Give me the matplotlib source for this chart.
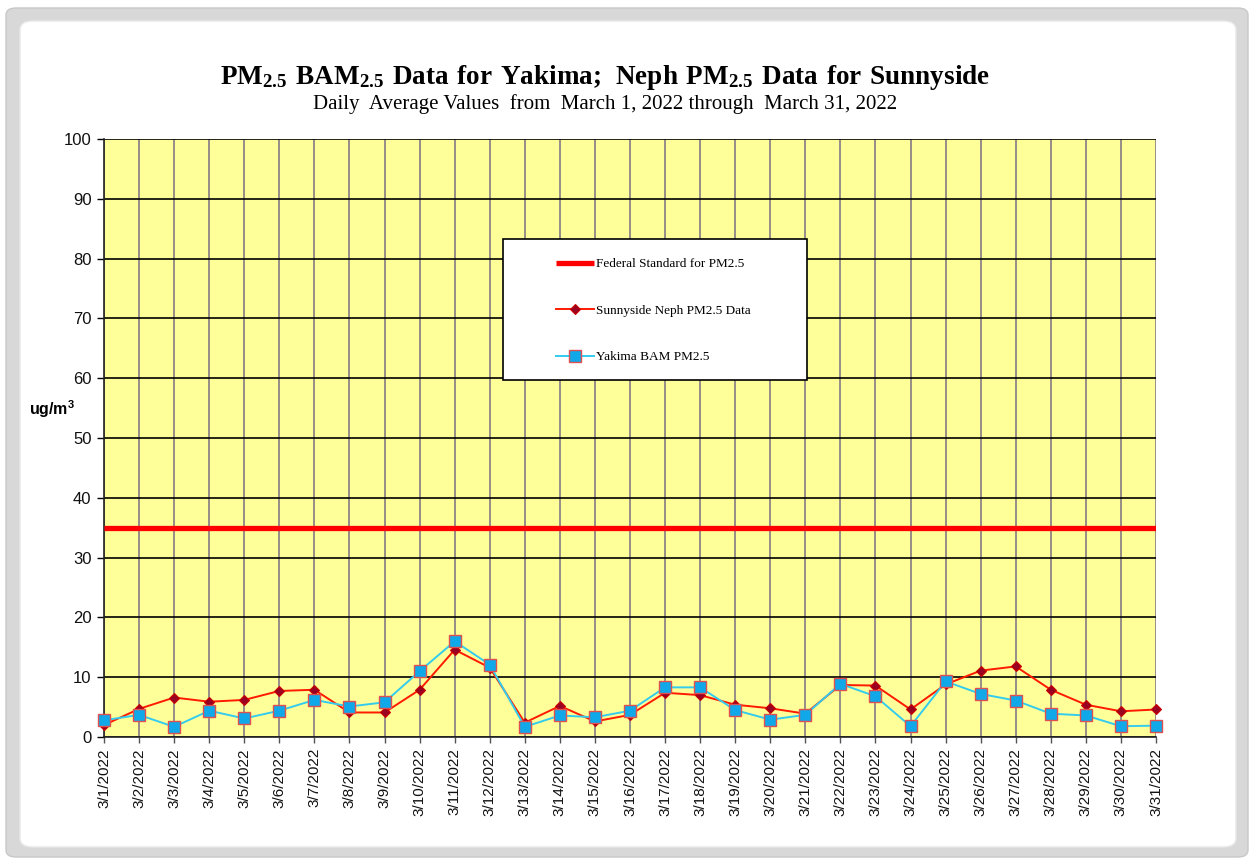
import matplotlib
matplotlib.use("Agg")
import matplotlib.pyplot as plt
from matplotlib.patches import FancyBboxPatch, Rectangle

plt.rcParams['mathtext.fontset'] = 'custom'
plt.rcParams['mathtext.rm'] = 'Liberation Serif'
plt.rcParams['mathtext.bf'] = 'Liberation Serif:bold'
plt.rcParams['mathtext.sf'] = 'Liberation Sans:bold'

days = list(range(1, 32))
dates = [f"3/{d}/2022" for d in days]
sunnyside = [2.0, 4.7, 6.6, 5.9, 6.2, 7.7, 7.9, 4.1, 4.1, 7.9, 14.6, 11.6,
             2.4, 5.2, 2.6, 3.7, 7.4, 7.0, 5.4, 4.8, 3.9, 8.7, 8.6,
             4.6, 8.8, 11.1, 11.8, 7.9, 5.4, 4.3, 4.6]
yakima = [2.8, 3.7, 1.7, 4.4, 3.1, 4.4, 6.2, 5.1, 5.8, 11.0, 16.0, 12.1,
          1.7, 3.6, 3.3, 4.4, 8.3, 8.3, 4.5, 2.9, 3.7, 8.9, 6.8,
          1.8, 9.3, 7.2, 6.1, 3.9, 3.6, 1.8, 1.9]
federal_standard = 35
yticks = list(range(0, 101, 10))

W, H = 1251, 861
fig = plt.figure(figsize=(W / 100, H / 100), dpi=100)
fig.patch.set_facecolor('white')

# outer frame
fig.patches.append(FancyBboxPatch((6 / W, 4 / H), 1242 / W, 849 / H,
                                  boxstyle="round,pad=0,rounding_size=0.008",
                                  transform=fig.transFigure, facecolor='#D8D8D8',
                                  edgecolor='#C8C8C8', lw=1, zorder=-10))
fig.patches.append(FancyBboxPatch((20 / W, 14 / H), 1216 / W, 826 / H,
                                  boxstyle="round,pad=0,rounding_size=0.01",
                                  transform=fig.transFigure, facecolor='white',
                                  edgecolor='#E8E8E8', lw=1, zorder=-9))

left, right, top, bottom = 104, 1156, 139, 737
ax = fig.add_axes([left / W, 1 - bottom / H, (right - left) / W, (bottom - top) / H])
ax.set_facecolor('#FFFF99')
ax.set_xlim(1, 31)
ax.set_ylim(0, 100)
ax.set_yticks(yticks)
ax.set_xticks(days)
ax.set_xticklabels(dates, rotation=90, fontsize=11, family='Liberation Sans', color='#111111')
ax.set_yticklabels([str(v) for v in yticks], fontsize=12, family='Liberation Sans', color='#111111')
ax.tick_params(axis='y', length=5, width=1, color='black', pad=4)
ax.tick_params(axis='x', length=4, width=1, color='#555555', pad=4)
ax.grid(axis='x', color='#857A85', lw=1.2, zorder=1)
ax.grid(axis='y', color='black', lw=1.2, zorder=1)
ax.set_axisbelow(True)
for s in ['top', 'right']:
    ax.spines[s].set_visible(False)
for s in ['left', 'bottom']:
    ax.spines[s].set_color('#222222')
    ax.spines[s].set_linewidth(1.2)

l1, = ax.plot([days[0], days[-1]], [federal_standard, federal_standard], color='#FF0000', lw=3.8,
              solid_capstyle='butt', zorder=3, label='Federal Standard for PM2.5')
l2, = ax.plot(days, sunnyside, color='#FF1A00', lw=1.4, marker='D', markersize=5,
              markerfacecolor='#990022', markeredgecolor='#CC0000', markeredgewidth=0.8,
              zorder=4, label='Sunnyside Neph PM2.5 Data')
l3, = ax.plot(days, yakima, color='#33CCEE', lw=1.4, marker='s', markersize=8.5,
              markerfacecolor='#10A8E8', markeredgecolor='#E05050', markeredgewidth=1.0,
              zorder=4, label='Yakima BAM PM2.5')
for l in (l2, l3):
    l.set_clip_on(False)

# legend box
lx0, ly0, lx1, ly1 = 503, 239, 807, 380
ax.add_patch(Rectangle(((lx0 - left) / (right - left), (bottom - ly1) / (bottom - top)),
                       (lx1 - lx0) / (right - left), (ly1 - ly0) / (bottom - top),
                       transform=ax.transAxes, facecolor='white', edgecolor='black',
                       lw=1.2, zorder=6))
leg = ax.legend(handles=[l1, l2, l3], loc='upper left',
                bbox_to_anchor=((556 - left) / (right - left), (bottom - 258) / (bottom - top)),
                frameon=False, prop={'family': 'Liberation Serif', 'size': 9.5},
                handlelength=2.9, handletextpad=0.15, labelspacing=2.6, borderpad=0,
                borderaxespad=0)
leg.set_zorder(7)

fig.text(605 / W, 1 - 77 / H,
         r"$\mathbf{PM_{2.5}\ BAM_{2.5}\ Data\ for\ Yakima;\ Neph\ PM_{2.5}\ Data\ for\ Sunnyside}$",
         ha='center', va='center', fontsize=19.5)
fig.text(605 / W, 1 - 104 / H,
         "Daily  Average Values  from  March 1, 2022 through  March 31, 2022",
         ha='center', va='center', fontsize=15, family='Liberation Serif')
fig.text(52 / W, 1 - 409 / H, r"ug/m$^{\mathsf{3}}$", ha='center', va='center',
         fontsize=11.5, family='Liberation Sans', weight='bold')

fig.savefig('out.png', dpi=100)
